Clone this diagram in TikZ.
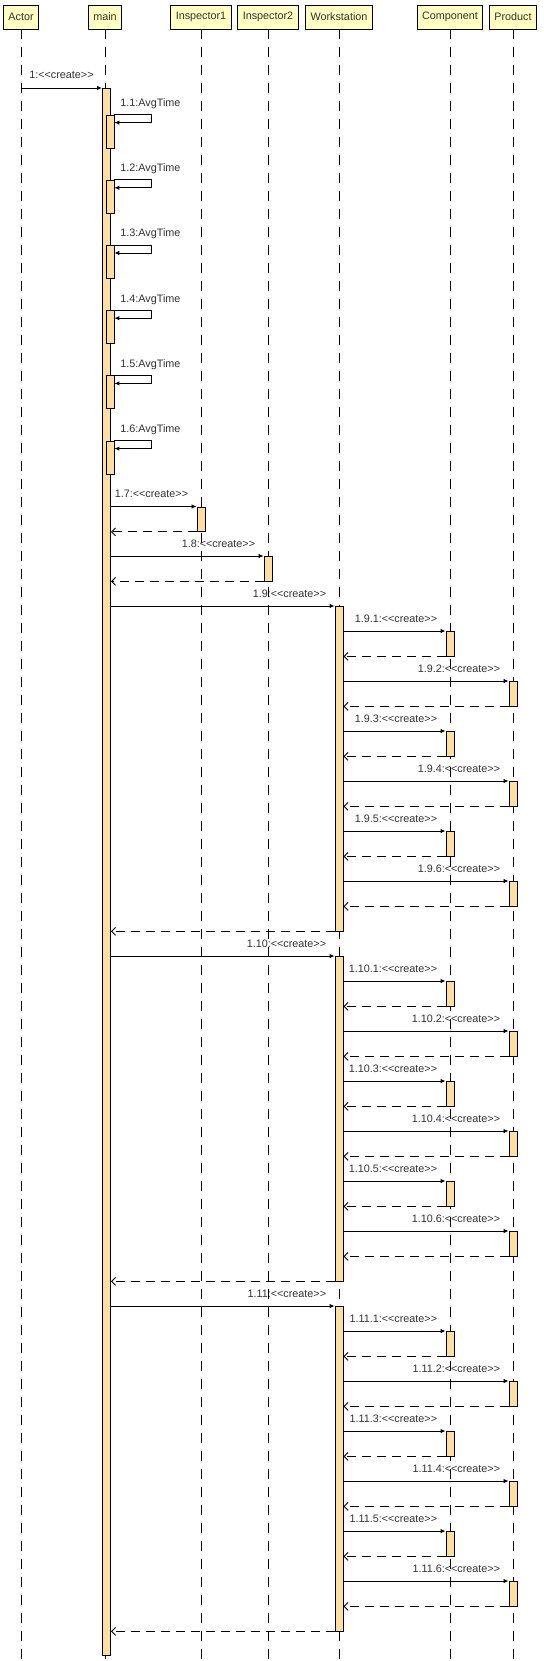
\documentclass[tikz,border=0pt]{standalone}
\usepackage{fontspec}
\setmainfont{Liberation Sans}
\usetikzlibrary{calc,positioning,arrows.meta}
\definecolor{objyellow}{RGB}{255,255,194}
\definecolor{actorange}{RGB}{255,222,163}
\definecolor{txtgray}{RGB}{50,50,50}
\newcommand\crt{{<}{<}create{>}{>}}
\tikzset{
obj/.style={draw,fill=objyellow,minimum height=24pt,inner xsep=5pt,inner ysep=0pt,text=txtgray},
act/.style={draw,fill=actorange,minimum width=8pt,inner sep=0pt},
lifeline/.style={dash pattern=on 10pt off 8pt},
msg/.style={-{Latex[length=5pt,width=4.5pt]}},
ret/.style={dash pattern=on 9pt off 6pt,-{Straight Barb[length=4pt,width=8pt]}},
lbl/.style={anchor=base east,inner sep=0pt,text=txtgray},
}
\begin{document}
\begin{tikzpicture}[x=1pt,y=-1pt,line width=0.9pt,font=\fontsize{10.8}{13}\selectfont]
\useasboundingbox(0,0)rectangle(543,1661);
% objects and lifelines
\node[obj](actor)at(21,17){Actor};
\node[obj](main)at(105,17){main};
\node[obj](insp1)at(201,17){Inspector1};
\node[obj](insp2)at(268,17){Inspector2};
\node[obj](ws)at(339,17){Workstation};
\node[obj](comp)at(450,17){Component};
\node[obj](prod)at(513,17){Product};
\foreach \o in {actor,main,insp1,insp2,ws,comp,prod}
  \draw[lifeline](\o.south)--(\o.south|-0,1661);
% main activation
\node[act,anchor=north,minimum height=1567pt](mainbar)at(106.5,88){};
\draw[msg](actor.south|-mainbar.north)--(mainbar.north west);
\node[lbl](l1)at([xshift=-8pt,yshift=9pt]mainbar.north west){1:\crt};
% self calls
\foreach \k [evaluate=\k as \y using 114.6+65.2*(\k-1)] in {1,...,6}{
  \node[act,anchor=north west,minimum height=33pt](s\k)at(105.5,\y){};
  \draw[msg](s\k.north east)--++(37,0)--++(0,8)--++(-37,0);
  \node[anchor=base west,inner sep=0pt,text=txtgray](ls\k)at(120,\y-8){1.\k:AvgTime};
}
% inspectors
\node[act,anchor=north,minimum height=24.5pt](i1bar)at(201,506.5){};
\draw[msg](mainbar.east|-i1bar.north)--(i1bar.north west);
\node[lbl](l7)at([xshift=-8pt,yshift=9pt]i1bar.north west){1.7:\crt};
\draw[ret](i1bar.south west)--(mainbar.east|-i1bar.south);
\node[act,anchor=north,minimum height=24.5pt](i2bar)at(268,556){};
\draw[msg](mainbar.east|-i2bar.north)--(i2bar.north west);
\node[lbl](l8)at([xshift=-8pt,yshift=9pt]i2bar.north west){1.8:\crt};
\draw[ret](i2bar.south west)--(mainbar.east|-i2bar.south);
% workstations
\foreach \n/\y in {9/606,10/956,11/1306}{
  \node[act,anchor=north,minimum height=324.5pt](w\n)at(339,\y){};
  \draw[msg](mainbar.east|-w\n.north)--(w\n.north west);
  \node[lbl](l\n)at([xshift=-8pt,yshift=9pt]w\n.north west){1.\n:\crt};
  \foreach \k/\x in {1/450,2/513,3/450,4/513,5/450,6/513}{
    \pgfmathsetmacro\yy{\y+50*\k-25}
    \node[act,anchor=north,minimum height=24.5pt](b\n-\k)at(\x,\yy){};
    \draw[msg](w\n.east|-b\n-\k.north)--(b\n-\k.north west);
    \node[lbl](l\n-\k)at([xshift=-8pt,yshift=9pt]b\n-\k.north west){1.\n.\k:\crt};
    \draw[ret](b\n-\k.south west)--(w\n.east|-b\n-\k.south);
  }
  \draw[ret](w\n.south west)--(mainbar.east|-w\n.south);
}
\end{tikzpicture}
\end{document}
